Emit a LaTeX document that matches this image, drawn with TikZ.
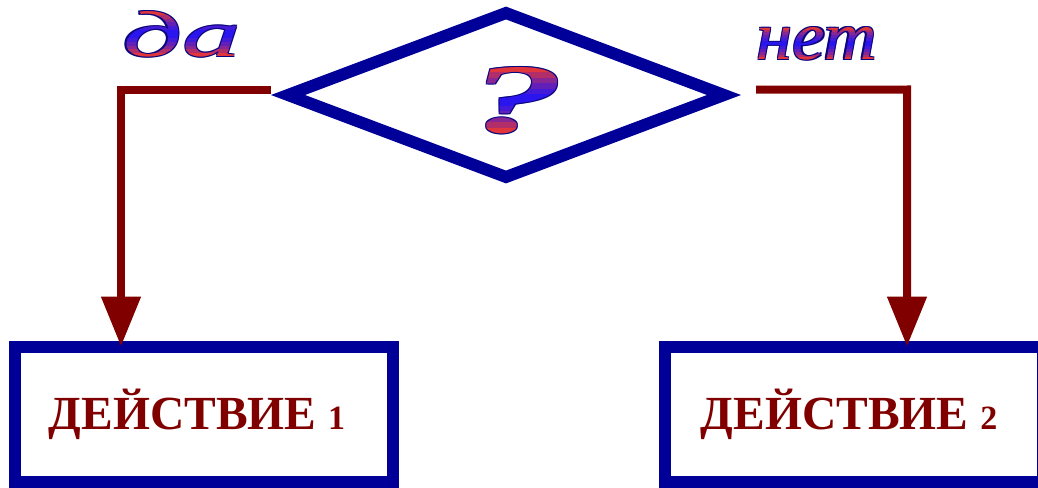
\documentclass[tikz,border=0pt]{standalone}
\usepackage{fontspec}
\setmainfont{Liberation Serif}
\usepackage{graphicx}
\usetikzlibrary{shapes.geometric,arrows.meta,calc}

\definecolor{boxblue}{RGB}{0,0,153}
\definecolor{linered}{RGB}{128,0,0}
\definecolor{artred}{RGB}{225,55,60}
\definecolor{artblue}{RGB}{35,20,245}
\definecolor{artedge}{RGB}{10,5,125}

\newcommand{\datext}{\resizebox{118pt}{45pt}{\itshape да}}
\newcommand{\nettext}{\resizebox{120pt}{32pt}{\itshape нет}}
\newcommand{\qtext}{\resizebox{95pt}{65pt}{\bfseries\itshape ?}}

\begin{document}
\begin{tikzpicture}[x=1pt, y=-1pt,
		actbox/.style={rectangle, draw=boxblue, line width=12pt, minimum width=378pt, minimum height=135.5pt, inner sep=0, outer sep=0, text=linered, font=\bfseries\fontsize{47.5}{47.5}\selectfont},
		flow/.style={draw=linered, line width=8pt, -{Triangle[length=50pt, width=38pt]}},
		wordart edge/.style={inner sep=0, text=artedge}]
	\useasboundingbox (0,0) rectangle (1038,487);
	% condition
	\node[diamond, draw=boxblue, line width=12pt, minimum width=436pt, minimum height=164pt, inner sep=0, outer sep=0] (cond) at (506,95) {};
	\node[inner sep=0] (q) at (517,100.5) {\phantom{\qtext}};
	\node[inner sep=0] (da) at (182.3,34.5) {\phantom{\datext}};
	\node[inner sep=0] (net) at (816.7,44) {\phantom{\nettext}};
	% outlined words with a red-blue-red fill, in bands
	\foreach \word/\txt in {da/\datext, net/\nettext, q/\qtext} {
		\foreach \dx/\dy [count=\i] in {1.3/1.3, -1.3/1.3, 1.3/-1.3, -1.3/-1.3}
			\node[wordart edge] (\word-edge-\i) at ([shift={(\dx,\dy)}]\word.center) {\txt};
		\foreach \k in {0,...,11} {
			\pgfmathsetmacro{\lo}{\k/12}
			\pgfmathsetmacro{\hi}{(\k+1.2)/12}
			\pgfmathsetmacro{\pct}{100*(abs(\k-5.5)/5.5)^1.4}
			\begin{scope}
				\clip ($(\word.north west)!\lo!(\word.south west)+(-14,0)$) rectangle ($(\word.north east)!\hi!(\word.south east)+(14,0)$);
				\node[inner sep=0, text=artred!\pct!artblue] (\word-band-\k) at (\word.center) {\txt};
			\end{scope}
		}
	}
	% actions
	\node[actbox] (act1) at (204,414.25) {ДЕЙСТВИЕ {\fontsize{34}{34}\selectfont 1}\hspace*{14pt}};
	\node[actbox] (act2) at (854,414.25) {ДЕЙСТВИЕ {\fontsize{34}{34}\selectfont 2}\hspace*{10pt}};
	\coordinate (yes-bend) at (121,89.5);
	\coordinate (no-bend) at (907,89.5);
	\draw[flow] ([shift={(-17,-5.5)}]cond.west) -- (yes-bend) -- (yes-bend |- act1.north);
	\draw[flow] ([shift={(32,-5.3)}]cond.east) -- (no-bend) -- (no-bend |- act2.north);
\end{tikzpicture}
\end{document}
